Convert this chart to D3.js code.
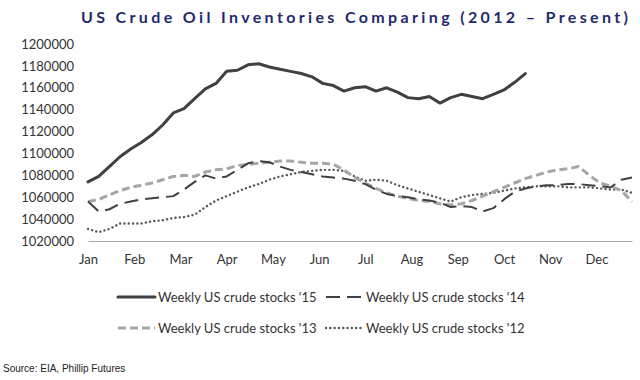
<!DOCTYPE html>
<html>
<head>
<meta charset="utf-8">
<script src="https://cdn.jsdelivr.net/npm/d3@7"></script>
<style>
  html, body { margin: 0; padding: 0; background: #fff; }
  svg { display: block; }
</style>
</head>
<body>
<svg id="chart" width="640" height="380"></svg>
<script>
// ---- data ----
const months = ["Jan","Feb","Mar","Apr","May","Jun","Jul","Aug","Sep","Oct","Nov","Dec"];
const yTicks = [1020000,1040000,1060000,1080000,1100000,1120000,1140000,1160000,1180000,1200000];

const stocks15 = [1074000,1079000,1088000,1097000,1104000,1110000,1117000,1126000,1137000,1141000,
  1150000,1159000,1164000,1175000,1176000,1181000,1182000,1179000,1177000,1175000,
  1173000,1170000,1164000,1162000,1157000,1160000,1161000,1157000,1160000,1156000,
  1151000,1150000,1152000,1146000,1151000,1154000,1152000,1150000,1154000,1158000,
  1165000,1173000];
const stocks14 = [1056000,1047000,1049000,1054000,1056000,1058000,1059000,1060000,1061000,1067000,
  1074000,1080000,1077000,1079000,1085000,1091000,1093000,1092000,1088000,1085000,
  1083000,1081000,1079000,1078000,1077000,1075000,1072000,1067000,1063000,1061000,
  1060000,1058000,1057000,1055000,1051000,1052000,1051000,1047000,1050000,1058000,
  1065000,1068000,1070000,1071000,1071000,1072000,1072000,1071000,1070000,1069000,
  1076000,1078000];
const stocks13 = [1056000,1058000,1062000,1066000,1069000,1071000,1073000,1076000,1079000,1080000,
  1079000,1083000,1085000,1086000,1089000,1090000,1091000,1092000,1093000,1093000,
  1092000,1091000,1091000,1090000,1085000,1078000,1073000,1068000,1064000,1061000,
  1059000,1057000,1056000,1054000,1053000,1054000,1057000,1061000,1065000,1069000,
  1073000,1077000,1080000,1083000,1085000,1086000,1088000,1080000,1073000,1070000,
  1066000,1056000];
const stocks12 = [1031000,1028000,1031000,1036000,1036000,1036000,1038000,1039000,1041000,1042000,
  1044000,1051000,1057000,1061000,1065000,1069000,1072000,1076000,1079000,1081000,
  1083000,1084000,1085000,1085000,1084000,1079000,1075000,1076000,1075000,1071000,
  1068000,1065000,1062000,1059000,1056000,1060000,1062000,1063000,1064000,1066000,
  1068000,1069000,1070000,1070000,1070000,1069000,1069000,1069000,1068000,1067000,
  1067000,1064000];
const seriesNames = ["Weekly US crude stocks '15","Weekly US crude stocks '14",
                     "Weekly US crude stocks '13","Weekly US crude stocks '12"];

// ---- drawing ----
const svg = d3.select("#chart");
const styles = [
  {color:"#404040", width:3,   dash:null,  cap:"round"},
  {color:"#404040", width:2,   dash:"14,7", cap:"butt"},
  {color:"#a6a6a6", width:3,   dash:"8,4",  cap:"butt"},
  {color:"#595959", width:2.4, dash:"0.1,4.2", cap:"round"}
];
const allSeries = [stocks15, stocks14, stocks13, stocks12];

const x = d3.scaleLinear().domain([0, 51]).range([88, 632]);
const y = d3.scaleLinear().domain([1020000, 1200000]).range([241, 44]);

// title
svg.append("text")
  .attr("x", 81).attr("y", 23)
  .attr("textLength", 547).attr("lengthAdjust", "spacing")
  .attr("font-family", "Lato, sans-serif")
  .attr("font-weight", "bold").attr("font-size", 16)
  .attr("fill", "#1f2a6e")
  .text("US Crude Oil Inventories Comparing (2012 \u2013 Present)");

// y axis
const yAxis = d3.axisLeft(y).tickValues(yTicks).tickSize(0).tickPadding(14)
  .tickFormat(d3.format("d"));
const gy = svg.append("g").attr("transform", "translate(88,0)").call(yAxis);
gy.select(".domain").remove();
gy.selectAll("text").attr("font-family", "Lato, sans-serif").attr("font-size", 13).attr("fill", "#333");

// x axis
const xAxis = d3.axisBottom(x)
  .tickValues(months.map((m, i) => i * 52 / 12))
  .tickFormat((d, i) => months[i]).tickSize(0).tickPadding(14);
const gx = svg.append("g").attr("transform", "translate(0,241)").call(xAxis);
gx.select(".domain").attr("stroke", "#a8a8a8").attr("stroke-width", 1.2);
gx.selectAll("text").attr("font-family", "Lato, sans-serif").attr("font-size", 13).attr("fill", "#333");

// lines (draw '12 first, '15 last)
const line = d3.line().x((d, i) => x(i)).y(d => y(d)).curve(d3.curveLinear);
[3, 2, 1, 0].forEach(k => {
  const s = styles[k];
  svg.append("path")
    .datum(allSeries[k])
    .attr("d", line)
    .attr("fill", "none")
    .attr("stroke", s.color)
    .attr("stroke-width", s.width)
    .attr("stroke-linecap", s.cap)
    .attr("stroke-linejoin", "round")
    .attr("stroke-dasharray", s.dash);
});

// legend
const legendPos = [
  {sx: 118, sy: 297}, {sx: 326, sy: 297},
  {sx: 118, sy: 328}, {sx: 326, sy: 328}
];
seriesNames.forEach((name, k) => {
  const p = legendPos[k], s = styles[k];
  svg.append("line")
    .attr("x1", p.sx).attr("x2", p.sx + 37)
    .attr("y1", p.sy).attr("y2", p.sy)
    .attr("stroke", s.color).attr("stroke-width", s.width)
    .attr("stroke-linecap", s.cap)
    .attr("stroke-dasharray", s.dash);
  svg.append("text")
    .attr("x", p.sx + 40).attr("y", p.sy + 4.5)
    .attr("font-family", "Lato, sans-serif").attr("font-size", 13)
    .attr("fill", "#333")
    .text(name);
});

// source
svg.append("text")
  .attr("x", 3).attr("y", 372)
  .attr("font-family", "Liberation Sans, Arial, sans-serif").attr("font-size", 10)
  .attr("fill", "#222")
  .text("Source: EIA, Phillip Futures");
</script>
</body>
</html>
